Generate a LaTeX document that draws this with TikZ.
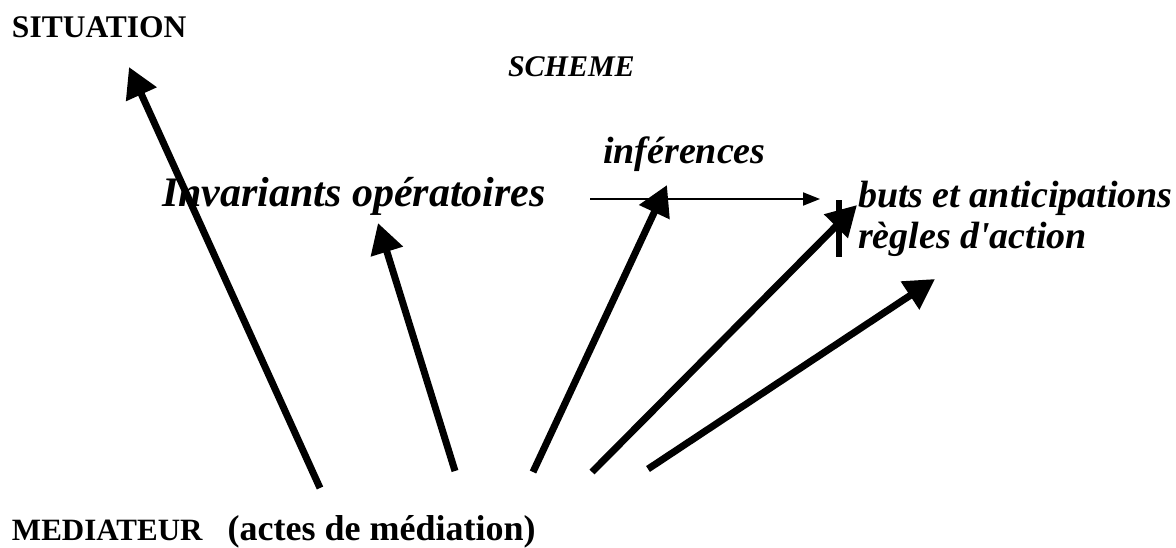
\documentclass[tikz,border=0pt]{standalone}
\usepackage{fontspec}
\setmainfont{Liberation Serif}
\usetikzlibrary{arrows.meta}
\begin{document}
\begin{tikzpicture}[x=1pt,y=-1pt,
  lbl/.style={anchor=base west,inner sep=0pt,outer sep=0pt},
  caps/.style={lbl,font=\fontsize{31.5}{36}\selectfont\bfseries},
  emph/.style={lbl,font=\fontsize{38}{44}\selectfont\bfseries\itshape},
  thickarrow/.style={line width=7pt,-{Triangle[length=30pt,width=32pt]}},
  thinarrow/.style={line width=2pt,-{Triangle[length=17pt,width=13pt]}},
  bar/.style={line width=6pt}]
\useasboundingbox (0,0) rectangle (1176,547);

% labels
\node[caps] (situation) at (12,37) {SITUATION};
\node[lbl,font=\fontsize{30}{34}\selectfont\bfseries\itshape] (scheme) at (508,76) {SCHEME};
\node[emph] (inferences) at (603,163) {inférences};
\node[emph,font=\fontsize{42}{48}\selectfont\bfseries\itshape] (invariants) at (162,206) {Invariants opératoires};
\node[emph] (buts) at (858,207) {buts et anticipations};
\node[emph] (regles) at (858,248) {règles d\textquotesingle action};
\node[lbl,font=\fontsize{31}{36}\selectfont\bfseries] (mediateur) at (12,540)
  {MEDIATEUR\hspace*{25pt}{\fontsize{36}{40}\selectfont(actes de médiation)}};

% inference arrow and separator bar
\coordinate (h0) at (590,199);
\coordinate (h1) at (820,199);
\draw[thinarrow] (h0) -- (h1);
\coordinate (b0) at (839,200);
\coordinate (b1) at (839,257);
\draw[bar] (b0) -- (b1);

% mediation arrows
\coordinate (m1) at (320,488); \coordinate (t1) at (129,67);
\coordinate (m2) at (455,471); \coordinate (t2) at (378,223);
\coordinate (m3) at (533,472); \coordinate (t3) at (667,185);
\coordinate (m4) at (592,472); \coordinate (t4) at (857,205);
\coordinate (m5) at (648,469); \coordinate (t5) at (935,279);
\foreach \i in {1,...,5} \draw[thickarrow] (m\i) -- (t\i);
\end{tikzpicture}
\end{document}
